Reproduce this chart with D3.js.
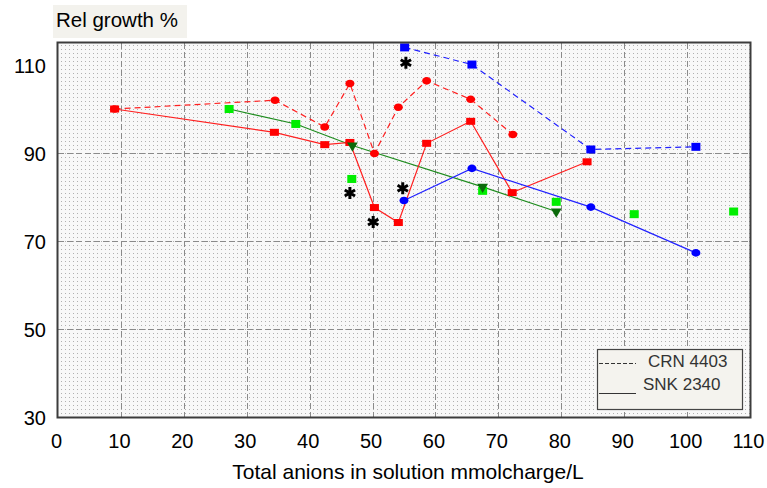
<!DOCTYPE html>
<html>
<head>
<meta charset="utf-8">
<script src="https://cdn.jsdelivr.net/npm/d3@7"></script>
<style>
  html, body { margin: 0; padding: 0; background: #fff; }
  svg { display: block; font-family: Arial, "Liberation Sans", sans-serif; }
</style>
</head>
<body>
<svg id="chart" width="767" height="488"></svg>
<script>
// Relative growth (%) against total anions in solution (mmolcharge/L)
const xTicks = [0, 10, 20, 30, 40, 50, 60, 70, 80, 90, 100, 110];
const yTicks = [30, 50, 70, 90, 110];
const yGrid = [50, 70, 90];

// CRN 4403 (dashed lines)
const redCRN = [[9, 100], [34.5, 102], [42.4, 95.9], [46.4, 105.8], [50.3, 89.9], [54.1, 100.4], [58.6, 106.4], [65.6, 102.2], [72.3, 94.2]];
const blueCRN = [[55.1, 114.0], [65.8, 110.1], [84.7, 90.8], [101.4, 91.4]];

// SNK 2340 (solid lines)
const redSNK = [[9, 100], [34.4, 94.7], [42.4, 91.9], [46.4, 92.4], [50.3, 77.6], [54.1, 74.2], [58.6, 92.2], [65.6, 97.2], [72.2, 81.0], [84.1, 88.0]];
const blueSNK = [[55.0, 79.2], [65.8, 86.5], [84.7, 77.7], [101.4, 67.3]];

// Green set: connected line, triangle markers, and loose square markers
const greenLine = [[27.2, 100], [37.8, 96.6], [46.8, 91.7], [67.5, 82.3], [79.2, 76.7]];
const greenTriangles = [[46.8, 91.7], [67.5, 82.3], [79.2, 76.7]];
const greenSquares = [[27.2, 100], [37.8, 96.6], [46.7, 84.1], [67.5, 81.4], [79.2, 78.9], [91.6, 76.1], [107.4, 76.7]];

// Significance marks
const stars = [[55.3, 110.5], [46.4, 80.9], [50.1, 74.3], [54.8, 82.0]];

const legendItems = [
  { label: "CRN 4403", dash: "4,2" },
  { label: "SNK 2340", dash: null }
];

const svg = d3.select("#chart");
const plot = { left: 58, right: 750, top: 43, bottom: 417 };

const x = d3.scaleLinear().domain([0, 110]).range([plot.left, plot.right]);
const y = d3.scaleLinear().domain([30, 115]).range([plot.bottom, plot.top]);

// dotted plot background
const defs = svg.append("defs");
const pat = defs.append("pattern")
  .attr("id", "dots").attr("width", 4).attr("height", 4)
  .attr("patternUnits", "userSpaceOnUse");
pat.append("rect").attr("width", 4).attr("height", 4).attr("fill", "#f8f8f8");
pat.append("rect").attr("x", 1).attr("y", 1).attr("width", 1).attr("height", 1).attr("fill", "#b0b0b0");

defs.append("clipPath").attr("id", "clip")
  .append("rect")
  .attr("x", plot.left).attr("y", plot.top)
  .attr("width", plot.right - plot.left).attr("height", plot.bottom - plot.top);

svg.append("rect")
  .attr("x", plot.left).attr("y", plot.top)
  .attr("width", plot.right - plot.left).attr("height", plot.bottom - plot.top)
  .attr("fill", "url(#dots)");

// grid
const grid = svg.append("g").attr("stroke", "#8a8a8a").attr("stroke-width", 1).attr("stroke-dasharray", "6,3");
grid.selectAll("line.v").data(xTicks.filter(d => d > 0 && d < 110)).join("line")
  .attr("class", "v")
  .attr("x1", d => Math.round(x(d)) + 0.5).attr("x2", d => Math.round(x(d)) + 0.5)
  .attr("y1", plot.top).attr("y2", plot.bottom);
grid.selectAll("line.h").data(yGrid).join("line")
  .attr("class", "h")
  .attr("y1", d => Math.round(y(d)) + 0.5).attr("y2", d => Math.round(y(d)) + 0.5)
  .attr("x1", plot.left).attr("x2", plot.right);

// axes (labels only, frame drawn separately)
const xAxis = d3.axisBottom(x).tickValues(xTicks).tickSize(0).tickPadding(0);
const gx = svg.append("g").attr("transform", `translate(0,${plot.bottom})`).call(xAxis);
gx.select(".domain").remove();
gx.selectAll("text")
  .attr("font-size", 20).attr("fill", "#000")
  .attr("font-family", "Arial, 'Liberation Sans', sans-serif")
  .attr("dx", -2).attr("dy", 0).attr("y", 31);

const yAxis = d3.axisLeft(y).tickValues(yTicks).tickSize(0).tickPadding(0);
const gy = svg.append("g").attr("transform", `translate(${plot.left},0)`).call(yAxis);
gy.select(".domain").remove();
gy.selectAll("text")
  .attr("font-size", 20).attr("fill", "#000")
  .attr("font-family", "Arial, 'Liberation Sans', sans-serif")
  .attr("x", -12).attr("dy", "0.36em");

// series
const data = svg.append("g").attr("clip-path", "url(#clip)");
const line = d3.line().x(d => x(d[0])).y(d => y(d[1]));

function drawLine(pts, color, dash) {
  data.append("path").datum(pts)
    .attr("d", line).attr("fill", "none")
    .attr("stroke", color).attr("stroke-width", 1.2)
    .attr("stroke-dasharray", dash);
}
function drawSquares(pts, color, w, h) {
  data.append("g").selectAll("rect").data(pts).join("rect")
    .attr("x", d => x(d[0]) - w / 2).attr("y", d => y(d[1]) - h / 2)
    .attr("width", w).attr("height", h).attr("fill", color);
}
function drawCircles(pts, color, rx, ry) {
  data.append("g").selectAll("ellipse").data(pts).join("ellipse")
    .attr("cx", d => x(d[0])).attr("cy", d => y(d[1]))
    .attr("rx", rx).attr("ry", ry).attr("fill", color);
}

drawLine(greenLine, "#1e8c1e", null);
drawLine(redCRN, "#ff2020", "6,4");
drawLine(redSNK, "#ff2020", null);
drawLine(blueCRN, "#2020ff", "6,4");
drawLine(blueSNK, "#2020ff", null);

drawCircles(redCRN, "#ff0000", 4.5, 3.8);
drawSquares(redSNK, "#ff0000", 9, 7);
drawSquares(blueCRN, "#0000ff", 9, 8);
drawCircles(blueSNK, "#0000ff", 4.5, 3.8);
drawSquares(greenSquares, "#00ee00", 9, 8);

const tri = d3.symbol().type(d3.symbolTriangle).size(50);
data.append("g").selectAll("path").data(greenTriangles).join("path")
  .attr("d", tri)
  .attr("transform", d => `translate(${x(d[0])},${y(d[1])}) rotate(180)`)
  .attr("fill", "#0b6a0b");

const star = d3.symbol().type(d3.symbolAsterisk).size(100);
svg.append("g").selectAll("path").data(stars).join("path")
  .attr("d", star)
  .attr("transform", d => `translate(${x(d[0])},${y(d[1])})`)
  .attr("fill", "none").attr("stroke", "#000").attr("stroke-width", 3);

// frame
svg.append("rect")
  .attr("x", plot.left - 0.5).attr("y", plot.top - 0.5)
  .attr("width", plot.right - plot.left + 1).attr("height", plot.bottom - plot.top + 1)
  .attr("fill", "none").attr("stroke", "#3c3c3c").attr("stroke-width", 2);

// y title box
svg.append("rect").attr("x", 53).attr("y", 5).attr("width", 134).attr("height", 33).attr("fill", "#f3f2ed");
svg.append("text").attr("x", 56).attr("y", 27).attr("font-size", 20.5).attr("fill", "#000").text("Rel growth %");

// x title
svg.append("text")
  .attr("x", 408).attr("y", 479).attr("text-anchor", "middle")
  .attr("font-size", 21).attr("fill", "#000")
  .text("Total anions in solution mmolcharge/L");

// legend
const lg = svg.append("g");
lg.append("rect").attr("x", 597.5).attr("y", 349.5).attr("width", 145).attr("height", 60)
  .attr("fill", "#f4f3ee").attr("stroke", "#444").attr("stroke-width", 1.2);
const rows = [363, 393];
const textY = [367, 390];
lg.selectAll("line").data(legendItems).join("line")
  .attr("x1", 599).attr("x2", 636)
  .attr("y1", (d, i) => rows[i] + 0.5).attr("y2", (d, i) => rows[i] + 0.5)
  .attr("stroke", "#333").attr("stroke-width", 1)
  .attr("stroke-dasharray", d => d.dash);
lg.selectAll("text").data(legendItems).join("text")
  .attr("x", (d, i) => i === 0 ? 648 : 643).attr("y", (d, i) => textY[i])
  .attr("font-size", 17).attr("fill", "#333")
  .text(d => d.label);
</script>
</body>
</html>
